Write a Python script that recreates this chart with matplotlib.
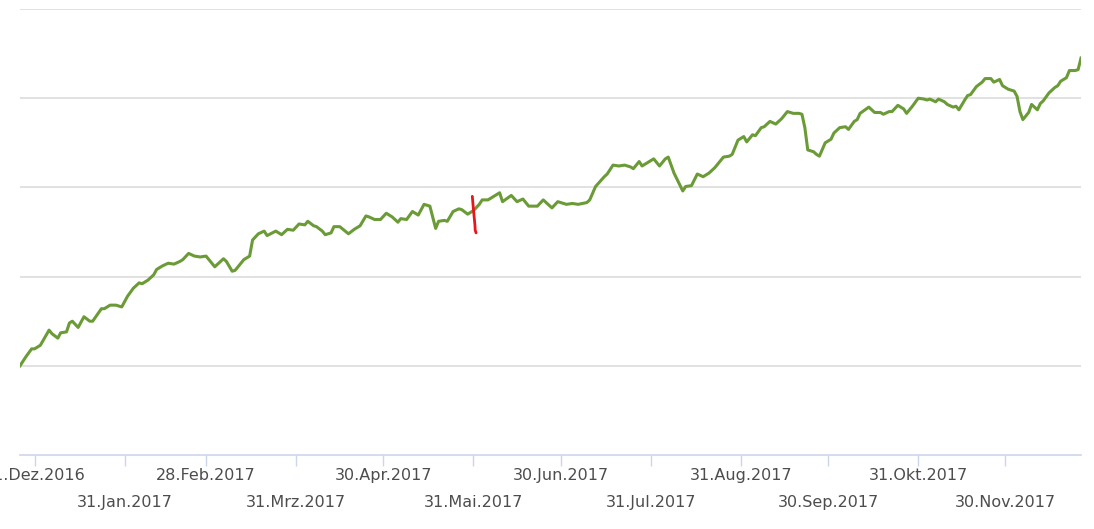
import matplotlib
matplotlib.use("Agg")
import matplotlib.pyplot as plt
import matplotlib.dates as mdates
import pandas as pd

# Kursverlauf (Index, Start = 100)
dates = [
    "2016-12-26", "2016-12-28", "2016-12-30", "2016-12-31", "2017-01-02", "2017-01-05",
    "2017-01-06", "2017-01-08", "2017-01-09", "2017-01-11", "2017-01-12", "2017-01-13",
    "2017-01-15", "2017-01-17", "2017-01-19", "2017-01-20", "2017-01-23", "2017-01-24",
    "2017-01-26", "2017-01-28", "2017-01-30", "2017-02-01", "2017-02-03", "2017-02-05",
    "2017-02-06", "2017-02-08", "2017-02-10", "2017-02-11", "2017-02-13", "2017-02-15",
    "2017-02-17", "2017-02-19", "2017-02-20", "2017-02-22", "2017-02-24", "2017-02-26",
    "2017-02-28", "2017-03-03", "2017-03-06", "2017-03-07", "2017-03-09", "2017-03-10",
    "2017-03-12", "2017-03-13", "2017-03-15", "2017-03-16", "2017-03-18", "2017-03-20",
    "2017-03-21", "2017-03-24", "2017-03-26", "2017-03-28", "2017-03-30", "2017-04-01",
    "2017-04-03", "2017-04-04", "2017-04-06", "2017-04-07", "2017-04-09", "2017-04-10",
    "2017-04-12", "2017-04-13", "2017-04-15", "2017-04-18", "2017-04-20", "2017-04-22",
    "2017-04-24", "2017-04-25", "2017-04-27", "2017-04-29", "2017-05-01", "2017-05-03",
    "2017-05-05", "2017-05-06", "2017-05-08", "2017-05-10", "2017-05-12", "2017-05-14",
    "2017-05-16", "2017-05-18", "2017-05-19", "2017-05-21", "2017-05-22", "2017-05-24",
    "2017-05-26", "2017-05-27", "2017-05-29", "2017-05-31", "2017-06-02", "2017-06-03",
    "2017-06-05", "2017-06-07", "2017-06-09", "2017-06-10", "2017-06-13", "2017-06-15",
    "2017-06-17", "2017-06-19", "2017-06-22", "2017-06-24", "2017-06-27", "2017-06-29",
    "2017-07-02", "2017-07-04", "2017-07-06", "2017-07-09", "2017-07-10", "2017-07-12",
    "2017-07-15", "2017-07-16", "2017-07-18", "2017-07-20", "2017-07-22", "2017-07-24",
    "2017-07-25", "2017-07-27", "2017-07-28", "2017-07-30", "2017-08-01", "2017-08-03",
    "2017-08-05", "2017-08-06", "2017-08-08", "2017-08-11", "2017-08-12", "2017-08-14",
    "2017-08-16", "2017-08-18", "2017-08-20", "2017-08-22", "2017-08-25", "2017-08-27",
    "2017-08-28", "2017-08-30", "2017-09-01", "2017-09-02", "2017-09-04", "2017-09-05",
    "2017-09-07", "2017-09-08", "2017-09-10", "2017-09-12", "2017-09-14", "2017-09-16",
    "2017-09-18", "2017-09-20", "2017-09-21", "2017-09-22", "2017-09-23", "2017-09-25",
    "2017-09-26", "2017-09-27", "2017-09-29", "2017-10-01", "2017-10-02", "2017-10-04",
    "2017-10-06", "2017-10-07", "2017-10-09", "2017-10-10", "2017-10-11", "2017-10-14",
    "2017-10-16", "2017-10-18", "2017-10-19", "2017-10-21", "2017-10-22", "2017-10-24",
    "2017-10-26", "2017-10-27", "2017-10-28", "2017-10-29", "2017-10-31", "2017-11-02",
    "2017-11-03", "2017-11-04", "2017-11-06", "2017-11-07", "2017-11-09", "2017-11-10",
    "2017-11-12", "2017-11-13", "2017-11-14", "2017-11-16", "2017-11-17", "2017-11-18",
    "2017-11-20", "2017-11-22", "2017-11-23", "2017-11-25", "2017-11-26", "2017-11-28",
    "2017-11-29", "2017-12-01", "2017-12-03", "2017-12-04", "2017-12-05", "2017-12-06",
    "2017-12-08", "2017-12-09", "2017-12-11", "2017-12-12", "2017-12-13", "2017-12-15",
    "2017-12-17", "2017-12-18", "2017-12-19", "2017-12-21", "2017-12-22", "2017-12-24",
    "2017-12-25", "2017-12-26",
]
values = [
    100.0, 101.0, 101.9, 101.9, 102.3, 104.0,
    103.6, 103.1, 103.7, 103.8, 104.8, 105.0,
    104.3, 105.5, 105.0, 105.0, 106.4, 106.4,
    106.8, 106.8, 106.6, 107.8, 108.7, 109.3,
    109.2, 109.6, 110.2, 110.8, 111.2, 111.5,
    111.4, 111.7, 111.9, 112.6, 112.3, 112.2,
    112.3, 111.1, 112.0, 111.7, 110.6, 110.7,
    111.5, 111.9, 112.3, 114.1, 114.8, 115.1,
    114.6, 115.1, 114.7, 115.3, 115.2, 115.9,
    115.8, 116.2, 115.7, 115.6, 115.1, 114.7,
    114.9, 115.6, 115.6, 114.8, 115.3, 115.7,
    116.8, 116.7, 116.4, 116.4, 117.1, 116.7,
    116.1, 116.5, 116.4, 117.3, 116.9, 118.1,
    117.9, 115.4, 116.2, 116.3, 116.2, 117.3,
    117.6, 117.5, 117.0, 117.4, 118.1, 118.6,
    118.6, 119.0, 119.4, 118.4, 119.1, 118.4,
    118.7, 117.9, 117.9, 118.6, 117.7, 118.4,
    118.1, 118.2, 118.1, 118.3, 118.6, 120.1,
    121.2, 121.5, 122.5, 122.4, 122.5, 122.3,
    122.1, 122.9, 122.4, 122.8, 123.2, 122.4,
    123.2, 123.4, 121.6, 119.6, 120.1, 120.2,
    121.5, 121.2, 121.6, 122.2, 123.4, 123.5,
    123.7, 125.3, 125.7, 125.1, 125.9, 125.8,
    126.7, 126.8, 127.4, 127.1, 127.7, 128.5,
    128.3, 128.3, 128.2, 126.7, 124.2, 124.0,
    123.7, 123.5, 125.0, 125.4, 126.1, 126.7,
    126.8, 126.5, 127.4, 127.6, 128.3, 129.0,
    128.4, 128.4, 128.2, 128.5, 128.5, 129.2,
    128.8, 128.3, 128.7, 129.1, 130.0, 129.9,
    129.8, 129.9, 129.6, 129.9, 129.6, 129.3,
    129.0, 129.1, 128.7, 129.8, 130.3, 130.4,
    131.3, 131.8, 132.2, 132.2, 131.8, 132.1,
    131.4, 131.0, 130.8, 130.2, 128.5, 127.6,
    128.4, 129.3, 128.7, 129.4, 129.7, 130.6,
    131.2, 131.4, 131.9, 132.3, 133.1, 133.1,
    133.2, 134.5,
]

tick_dates = ["2016-12-31", "2017-01-31", "2017-02-28", "2017-03-31", "2017-04-30",
              "2017-05-31", "2017-06-30", "2017-07-31", "2017-08-31", "2017-09-30",
              "2017-10-31", "2017-11-30"]
tick_labels = ["31.Dez.2016", "31.Jan.2017", "28.Feb.2017", "31.Mrz.2017", "30.Apr.2017",
               "31.Mai.2017", "30.Jun.2017", "31.Jul.2017", "31.Aug.2017", "30.Sep.2017",
               "31.Okt.2017", "30.Nov.2017"]

grid_values = [100, 110, 120, 130, 140]

# roter Handstrich bei Ende Mai
mark_offsets = [-0.4, 0.0, 0.5, 0.6, 0.9]
mark_values = [119.0, 117.5, 115.8, 115.2, 114.9]

x = pd.to_datetime(dates)
xt = pd.to_datetime(tick_dates)

fig = plt.figure(figsize=(10.94, 5.29), dpi=100)
ax = fig.add_axes([20 / 1094, 1 - 455 / 529, 1061 / 1094, 446 / 529])

for g in grid_values:
    ax.axhline(g, color="#dcdcdc", lw=1.2, zorder=1)

ax.plot(x, values, color="#6b9b37", lw=2.2, zorder=3, solid_joinstyle="round")

mx = mdates.date2num(pd.Timestamp("2017-05-31")) + pd.Series(mark_offsets)
ax.plot(mx, mark_values, color="#e8161c", lw=2.0, zorder=4, solid_capstyle="round")

ax.set_xlim(x[0], x[-1])
ax.set_ylim(90, 140)

for s in ["left", "right", "top"]:
    ax.spines[s].set_visible(False)
ax.spines["bottom"].set_color("#ccd6eb")
ax.spines["bottom"].set_linewidth(1.2)

ax.set_yticks([])
ax.set_xticks(xt)
ax.set_xticklabels(tick_labels, fontsize=11.5, color="#4d4d4d")
ax.tick_params(axis="x", length=8, width=1, color="#ccd6eb", pad=1.5)
for i, t in enumerate(ax.xaxis.get_major_ticks()):
    if i % 2 == 1:
        t.set_pad(20.5)

fig.savefig("out.png", dpi=100)
